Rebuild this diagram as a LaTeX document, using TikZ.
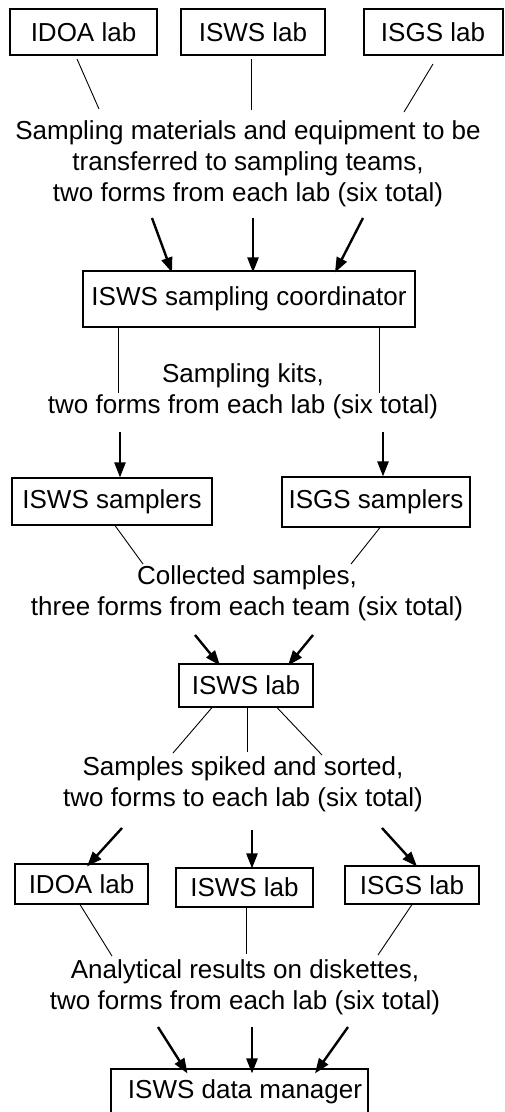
\documentclass[tikz,border=0pt]{standalone}
\usepackage{fontspec}
\setmainfont{Liberation Sans}
\usetikzlibrary{arrows.meta}
\begin{document}
\begin{tikzpicture}[x=1pt,y=-1pt,
  every node/.style={font=\fontsize{26pt}{31pt}\selectfont},
  topbox/.style={draw,line width=2pt,inner sep=0pt,minimum height=46pt},
  box/.style={draw,line width=1.1pt,inner sep=0pt},
  txt/.style={align=center,inner sep=0pt},
  thin/.style={line width=0.9pt},
  flow/.style={line width=2.4pt,-{Triangle[length=15pt,width=11pt]}}]
\useasboundingbox (0,0) rectangle (504,1112);
% top row
\node[topbox,minimum width=147pt] (idoa1) at (83.5,32) {IDOA lab};
\node[topbox,minimum width=144pt] (isws1) at (253,32) {ISWS lab};
\node[topbox,minimum width=139pt] (isgs1) at (433,32) {ISGS lab};
\node[txt] (t1) at (248,164) {Sampling materials and equipment to be\\transferred to sampling teams,\\two forms from each lab (six total)};
\coordinate (a1) at (99,109);
\coordinate (a2) at (251,110);
\coordinate (a3) at (404,112);
\draw[thin] ([xshift=-6.5pt,yshift=-3pt]idoa1.south) -- (a1);
\draw[thin] ([xshift=-2pt,yshift=-3pt]isws1.south) -- (a2);
\draw[thin] ([yshift=-8pt]isgs1.south) -- (a3);
\node[box,minimum width=332pt,minimum height=56pt] (coord) at (249,299) {ISWS sampling coordinator};
\coordinate (b1) at (152,218);
\coordinate (b2) at (253,218);
\coordinate (b3) at (363,218);
\draw[flow] (b1) -- ([xshift=-77pt,yshift=-2pt]coord.north);
\draw[flow] (b2) -- ([xshift=4pt,yshift=-2pt]coord.north);
\draw[flow] (b3) -- ([xshift=86pt,yshift=-2pt]coord.north);
% sampling kits
\node[txt] (t2) at (243,391) {Sampling kits,\\two forms from each lab (six total)};
\coordinate (c1) at (118,393);
\coordinate (c2) at (379,393);
\draw[thin] ([xshift=-131pt]coord.south) -- (c1);
\draw[thin] ([xshift=130pt]coord.south) -- (c2);
\node[box,minimum width=200pt,minimum height=47pt] (sw) at (112,501.5) {ISWS samplers};
\node[box,minimum width=188pt,minimum height=50pt] (sg) at (376,502) {ISGS samplers};
\coordinate (d1) at (120,432);
\coordinate (d2) at (383,432);
\draw[flow] (d1) -- ([xshift=8pt]sw.north);
\draw[flow] (d2) -- ([xshift=7pt]sg.north);
% collected samples
\node[txt] (t3) at (247,593) {Collected samples,\\three forms from each team (six total)};
\coordinate (e1) at (143,564);
\coordinate (e2) at (351,564);
\draw[thin] ([xshift=3pt]sw.south) -- (e1);
\draw[thin] ([xshift=4pt]sg.south) -- (e2);
\node[box,minimum width=134pt,minimum height=43pt] (lab) at (246,685.5) {ISWS lab};
\coordinate (f1) at (195,635);
\coordinate (f2) at (313,635);
\draw[flow] (f1) -- ([xshift=-26pt,yshift=-2pt]lab.north);
\draw[flow] (f2) -- ([xshift=42pt,yshift=-2pt]lab.north);
% spiked and sorted
\node[txt] (t4) at (243,784) {Samples spiked and sorted,\\two forms to each lab (six total)};
\coordinate (g1) at (173,753);
\coordinate (g2) at (247,752);
\coordinate (g3) at (322,755);
\draw[thin] ([xshift=-34pt]lab.south) -- (g1);
\draw[thin] ([xshift=1pt]lab.south) -- (g2);
\draw[thin] ([xshift=31pt]lab.south) -- (g3);
\node[box,minimum width=133pt,minimum height=40pt] (idoa2) at (81.5,884) {IDOA lab};
\node[box,minimum width=137pt,minimum height=39pt] (isws2) at (244.5,887.5) {ISWS lab};
\node[box,minimum width=134pt,minimum height=38pt] (isgs2) at (412,885) {ISGS lab};
\coordinate (h1) at (122,828);
\coordinate (h2) at (252,830);
\coordinate (h3) at (382,828);
\draw[flow] (h1) -- ([xshift=5.5pt,yshift=-3pt]idoa2.north);
\draw[flow] (h2) -- ([xshift=7.5pt,yshift=-1pt]isws2.north);
\draw[flow] (h3) -- ([xshift=5pt,yshift=-1pt]isgs2.north);
% analytical results
\node[txt] (t5) at (245,987) {Analytical results on diskettes,\\two forms from each lab (six total)};
\coordinate (k1) at (112,956);
\coordinate (k2) at (246,954);
\coordinate (k3) at (378,955);
\draw[thin] ([xshift=-1.5pt]idoa2.south) -- (k1);
\draw[thin] ([xshift=1.5pt]isws2.south) -- (k2);
\draw[thin] (isgs2.south) -- (k3);
\node[box,minimum width=257pt,minimum height=46pt] (dm) at (239.5,1092) {\hspace*{11pt}ISWS data manager};
\coordinate (m1) at (158,1027);
\coordinate (m2) at (252,1027);
\coordinate (m3) at (348,1027);
\draw[flow] (m1) -- ([xshift=-52pt,yshift=-5pt]dm.north);
\draw[flow] (m2) -- ([xshift=12.5pt,yshift=-5pt]dm.north);
\draw[flow] (m3) -- ([xshift=75.5pt,yshift=-5pt]dm.north);
\end{tikzpicture}
\end{document}
